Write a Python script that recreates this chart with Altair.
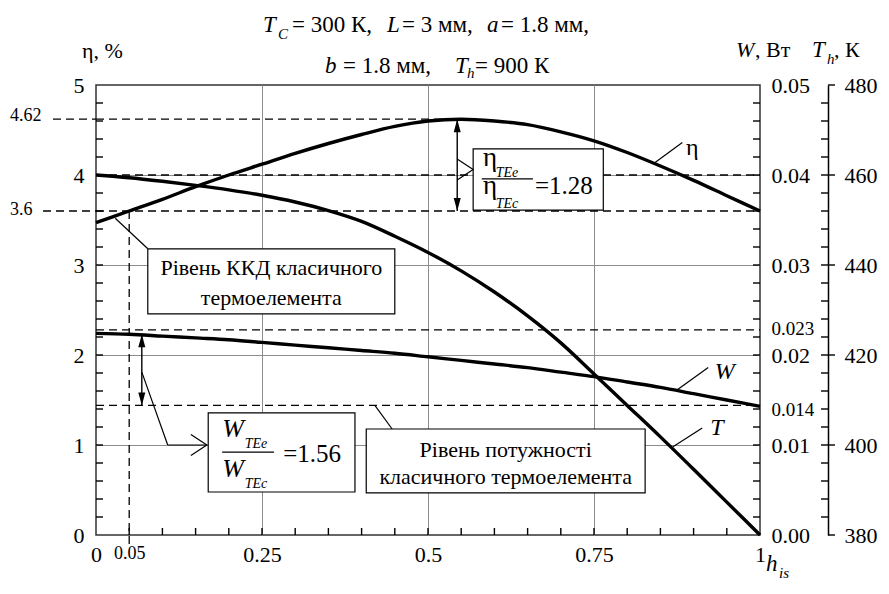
import altair as alt
import pandas as pd

FONT = "Liberation Serif, Times New Roman, DejaVu Serif, serif"

# ---------------- data ----------------
h_is = [0.00, 0.05, 0.10, 0.15, 0.20, 0.25, 0.30, 0.35, 0.40, 0.45, 0.50,
        0.55, 0.60, 0.65, 0.70, 0.75, 0.80, 0.85, 0.90, 0.95, 1.00]
eta = [3.47, 3.60, 3.73, 3.87, 4.00, 4.12, 4.24, 4.35, 4.45, 4.54, 4.60,
       4.62, 4.60, 4.56, 4.48, 4.38, 4.25, 4.10, 3.94, 3.77, 3.60]
W = [0.0224, 0.0223, 0.0221, 0.0219, 0.0217, 0.0214, 0.0211, 0.0208, 0.0205, 0.0202, 0.0198,
     0.0194, 0.0190, 0.0186, 0.0181, 0.0176, 0.0170, 0.0164, 0.0157, 0.0150, 0.0143]
T_h = [460.0, 459.4, 458.6, 457.7, 456.7, 455.5, 454.0, 452.1, 449.7, 446.4, 442.8,
       438.7, 434.0, 428.7, 422.7, 415.8, 408.8, 401.8, 394.6, 387.3, 380.0]

x_labels = [0, 0.05, 0.25, 0.5, 0.75, 1]
eta_labels = [0, 1, 2, 3, 4, 5]
W_labels = [0, 0.01, 0.014, 0.02, 0.023, 0.03, 0.04, 0.05]
T_labels = [380, 400, 420, 440, 460, 480]

eta_max = 4.62
eta_ref = 4.0
eta_classic = 3.6
W_max = 0.0228
W_classic = 0.0144
h_mark = 0.05

# ---------------- layout helpers ----------------
PW, PH = 664, 450
OX, OY = 96, 85          # page position of the plot's top-left corner
T_OFF = 68               # distance of the T_h axis from the plot's right edge
TL = 7                   # tick length


def px(v):
    return v - OX


def py(v):
    return v - OY


X = alt.Scale(domain=[0, 1], nice=False, zero=False)
SE = alt.Scale(domain=[0, 5], nice=False, zero=False)
SW = alt.Scale(domain=[0, 0.05], nice=False, zero=False)
ST = alt.Scale(domain=[380, 480], nice=False, zero=False)

curves = pd.DataFrame({"h": h_is, "eta": eta, "W": W, "T": T_h})
LINE = dict(color="black", strokeWidth=3.4, interpolate="monotone")
DASH = dict(color="black", strokeWidth=1.3, strokeDash=[8, 5])
SOLID = dict(color="black", strokeWidth=1.4)

minor_x = [round(i * 0.05, 2) for i in range(1, 20)]
minor_eta = [round(i * 0.2, 1) for i in range(1, 25)]
minor_W = [round(i * 0.002, 3) for i in range(1, 25)]
minor_T = [380 + 4 * i for i in range(1, 25)]

# ---------------- curves with their axes (labels only) ----------------
eta_line = alt.Chart(curves).mark_line(**LINE).encode(
    x=alt.X("h:Q", scale=X, axis=alt.Axis(
        orient="bottom", values=x_labels, title=None, grid=True, gridColor="#8c8c8c",
        gridOpacity={"condition": {"test": "datum.value == 0.05 || datum.value == 0 || datum.value == 1", "value": 0}, "value": 1},
        tickSize=0, labelPadding=9, labelExpr="'' + datum.value",
        labelFontSize={"condition": {"test": "datum.value == 0.05", "value": 18}, "value": 22})),
    y=alt.Y("eta:Q", scale=SE, axis=alt.Axis(
        orient="left", values=eta_labels, title=None, grid=True, gridColor="#8c8c8c",
        gridOpacity={"condition": {"test": "datum.value == 0 || datum.value == 5", "value": 0}, "value": 1},
        tickSize=0, labelPadding=12, labelExpr="'' + datum.value")),
)

w_line = alt.Chart(curves).mark_line(**LINE).encode(
    x=alt.X("h:Q", scale=X, axis=None),
    y=alt.Y("W:Q", scale=SW, axis=alt.Axis(
        orient="right", values=W_labels, title=None, tickSize=0, labelPadding=11,
        labelExpr="datum.value == 0 ? '0.00' : '' + datum.value",
        labelFontSize={"condition": {"test": "datum.value == 0.014 || datum.value == 0.023", "value": 19}, "value": 22})),
)

t_line = alt.Chart(curves).mark_line(**LINE).encode(
    x=alt.X("h:Q", scale=X, axis=None),
    y=alt.Y("T:Q", scale=ST, axis=alt.Axis(
        orient="right", values=T_labels, title=None, offset=T_OFF, tickSize=0, labelPadding=16,
        domain=True, domainColor="black", domainWidth=1.5, labelExpr="'' + datum.value")),
)


# ---------------- tick marks: tick values through the scales, lengths in pixels ----------------
def y_ticks(values, scale, a, b):
    df = pd.DataFrame({"v": values, "a": [a] * len(values), "b": [b] * len(values)})
    return alt.Chart(df).mark_rule(color="black", strokeWidth=1.4).encode(
        y=alt.Y("v:Q", scale=scale, axis=None),
        x=alt.X("a:Q", scale=None, axis=None), x2="b:Q")


ticks_x = alt.Chart(pd.DataFrame({"v": minor_x, "a": [PH] * len(minor_x),
                                  "b": [PH - TL] * len(minor_x)})).mark_rule(color="black", strokeWidth=1.4).encode(
    x=alt.X("v:Q", scale=X, axis=None),
    y=alt.Y("a:Q", scale=None, axis=None), y2="b:Q")
ticks_eta = y_ticks(minor_eta, SE, 0, TL)
ticks_w = y_ticks(minor_W, SW, PW - TL, PW)
ticks_t_minor = y_ticks(minor_T, ST, PW + T_OFF - TL, PW + T_OFF)
ticks_t_major = y_ticks(T_labels, ST, PW + T_OFF, PW + T_OFF + TL)

# ---------------- dashed reference lines ----------------
dash_eta = alt.Chart(pd.DataFrame({"y": [eta_max, eta_ref, eta_classic],
                                   "x0": [0, 0, 0], "x1": [0.53, 1, 1]})).mark_rule(**DASH).encode(
    x=alt.X("x0:Q", scale=X, axis=None), x2="x1:Q", y=alt.Y("y:Q", scale=SE, axis=None))
dash_out = alt.Chart(pd.DataFrame({"y": [eta_max, eta_classic], "p": [px(53), px(43)], "q": [0, 0]})).mark_rule(**DASH).encode(
    x=alt.X("p:Q", scale=None, axis=None), x2="q:Q", y=alt.Y("y:Q", scale=SE, axis=None))
dash_w = alt.Chart(pd.DataFrame({"y": [W_max, W_classic], "x0": [0, 0], "x1": [1, 1]})).mark_rule(**DASH).encode(
    x=alt.X("x0:Q", scale=X, axis=None), x2="x1:Q", y=alt.Y("y:Q", scale=SW, axis=None))
dash_v = alt.Chart(pd.DataFrame({"x": [h_mark], "y": [eta_classic]})).mark_rule(**DASH).encode(
    x=alt.X("x:Q", scale=X, axis=None), y=alt.Y("y:Q", scale=SE, axis=None), y2=alt.value(py(545)))

# ---------------- arrows and leader lines (data units of the eta axis) ----------------
arrows = pd.DataFrame({"x": [0.544, 0.069], "y": [4.62, 2.23], "y2": [3.6, 1.44]})
arrow_rules = alt.Chart(arrows).mark_rule(**SOLID).encode(
    x=alt.X("x:Q", scale=X, axis=None), y=alt.Y("y:Q", scale=SE, axis=None), y2="y2:Q")
heads_up = alt.Chart(arrows).mark_point(shape="M0,0L-0.7,2.6L0.7,2.6Z", filled=True, size=100,
                                        color="black", opacity=1).encode(
    x=alt.X("x:Q", scale=X, axis=None), y=alt.Y("y:Q", scale=SE, axis=None))
heads_down = alt.Chart(arrows).mark_point(shape="M0,0L-0.7,-2.6L0.7,-2.6Z", filled=True, size=100,
                                          color="black", opacity=1).encode(
    x=alt.X("x:Q", scale=X, axis=None), y=alt.Y("y2:Q", scale=SE, axis=None))

leaders = pd.DataFrame({
    "x": [0.029, 0.42, 0.069, 0.108, 0.842, 0.875, 0.869],
    "y": [3.52, 1.44, 1.81, 1.0, 4.14, 1.61, 0.98],
    "x2": [0.078, 0.446, 0.108, 0.167, 0.883, 0.922, 0.913],
    "y2": [3.18, 1.178, 1.0, 1.0, 4.36, 1.86, 1.19],
})
leader_rules = alt.Chart(leaders).mark_rule(color="black", strokeWidth=1.2).encode(
    x=alt.X("x:Q", scale=X, axis=None), x2="x2:Q",
    y=alt.Y("y:Q", scale=SE, axis=None), y2="y2:Q")

chevrons = alt.Chart(pd.DataFrame({"x": [0.568, 0.167], "y": [4.06, 1.0]})).mark_point(
    shape="M-1.6,-1.05L0,0L-1.6,1.05", filled=False, size=400, color="black",
    strokeWidth=1.2, opacity=1).encode(
    x=alt.X("x:Q", scale=X, axis=None), y=alt.Y("y:Q", scale=SE, axis=None))

# ---------------- boxes ----------------
boxes = pd.DataFrame({
    "x": [0.078, 0.407, 0.169, 0.568],
    "x2": [0.450, 0.827, 0.390, 0.764],
    "y": [3.18, 1.178, 1.356, 4.29],
    "y2": [2.456, 0.467, 0.478, 3.61],
})
box_rects = alt.Chart(boxes).mark_rect(fill="white", stroke="black", strokeWidth=1.2).encode(
    x=alt.X("x:Q", scale=X, axis=None), x2="x2:Q",
    y=alt.Y("y:Q", scale=SE, axis=None), y2="y2:Q")

frac_bars = alt.Chart(pd.DataFrame({"x": [0.581, 0.19], "x2": [0.658, 0.268], "y": [3.956, 0.92]})).mark_rule(
    color="black", strokeWidth=1.3).encode(
    x=alt.X("x:Q", scale=X, axis=None), x2="x2:Q", y=alt.Y("y:Q", scale=SE, axis=None))


# ---------------- texts ----------------
def texts(rows, size, italic=False, align="left", baseline="alphabetic", pixel=False):
    df = pd.DataFrame(rows, columns=["t", "x", "y"])
    mark = alt.Chart(df).mark_text(font=FONT, fontSize=size, color="black",
                                   fontStyle="italic" if italic else "normal",
                                   align=align, baseline=baseline)
    if pixel:
        return mark.encode(text="t:N", x=alt.X("x:Q", scale=None, axis=None),
                           y=alt.Y("y:Q", scale=None, axis=None))
    return mark.encode(text="t:N", x=alt.X("x:Q", scale=X, axis=None),
                       y=alt.Y("y:Q", scale=SE, axis=None))


box_text = texts([
    ("Рівень ККД класичного", 0.264, 2.97),
    ("термоелемента", 0.264, 2.63),
    ("Рівень потужності", 0.617, 0.95),
    ("класичного термоелемента", 0.617, 0.64),
], 22, align="center", baseline="middle")

eta_frac = texts([("η", 0.583, 4.10), ("η", 0.583, 3.79)], 27)
eta_subs = texts([("TEe", 0.602, 3.98), ("TEc", 0.602, 3.63)], 14, italic=True)
ratio_text = texts([("=1.28", 0.661, 3.88), ("=1.56", 0.282, 0.90)], 25, baseline="middle")
w_frac = texts([("W", 0.19, 1.089), ("W", 0.19, 0.644)], 26, italic=True)
w_subs = texts([("TEe", 0.224, 0.967), ("TEc", 0.224, 0.522)], 14, italic=True)

curve_eta_lbl = texts([("η", 0.898, 4.30)], 24, align="center", baseline="middle")
curve_it_lbl = texts([("W", 0.947, 1.81), ("T", 0.935, 1.19)], 24, italic=True,
                     align="center", baseline="middle")

# page-positioned texts (titles, axis titles, extra level labels)
title_up = texts([
    ("= 300 К,", px(292), py(32)),
    ("= 3 мм,", px(402), py(32)),
    ("= 1.8 мм,", px(501), py(32)),
    ("= 1.8 мм,", px(343), py(73)),
    ("= 900 К", px(475), py(73)),
], 23, pixel=True)
title_it = texts([
    ("T", px(263), py(32)),
    ("L", px(387), py(32)),
    ("a", px(487), py(32)),
    ("b", px(325), py(73)),
    ("T", px(455), py(73)),
    ("T", px(812), py(57)),
    ("h", px(766), py(571)),
], 23, italic=True, pixel=True)
w_title = texts([("W", px(736), py(57))], 22, italic=True, pixel=True)
title_sub = texts([
    ("C", px(278), py(39)),
    ("h", px(467), py(78)),
    ("h", px(827), py(64)),
    ("is", px(779), py(578)),
], 15, italic=True, pixel=True)
axis_titles = texts([
    ("η, %", px(82), py(58)),
    (", Вт", px(755), py(57)),
    (", К", px(834), py(57)),
], 22, pixel=True)
level_labels = texts([
    ("4.62", px(10), py(121)),
    ("3.6", px(10), py(215)),
], 18, pixel=True)

chart = alt.layer(
    ticks_x, ticks_eta, ticks_w, ticks_t_minor, ticks_t_major,
    dash_eta, dash_out, dash_w, dash_v,
    eta_line, w_line, t_line,
    arrow_rules, heads_up, heads_down, leader_rules,
    box_rects, chevrons, frac_bars,
    box_text, eta_frac, eta_subs, ratio_text, w_frac, w_subs,
    curve_eta_lbl, curve_it_lbl,
    title_up, title_it, w_title, title_sub, axis_titles, level_labels,
).resolve_scale(
    x="independent", y="independent"
).resolve_axis(
    x="independent", y="independent"
).properties(
    width=PW, height=PH,
    autosize=alt.AutoSizeParams(type="none"),
    padding={"left": 88, "top": 77, "right": 121, "bottom": 45},
    background="white",
).configure_view(
    stroke="#333333", strokeWidth=1.5
).configure_axis(
    labelFont=FONT, labelFontSize=22, labelColor="black", labelOverlap=False,
    labelFlush=False, domain=False, grid=False, gridWidth=1,
)

chart.save("out.html", embed_options={"renderer": "svg", "actions": False})
